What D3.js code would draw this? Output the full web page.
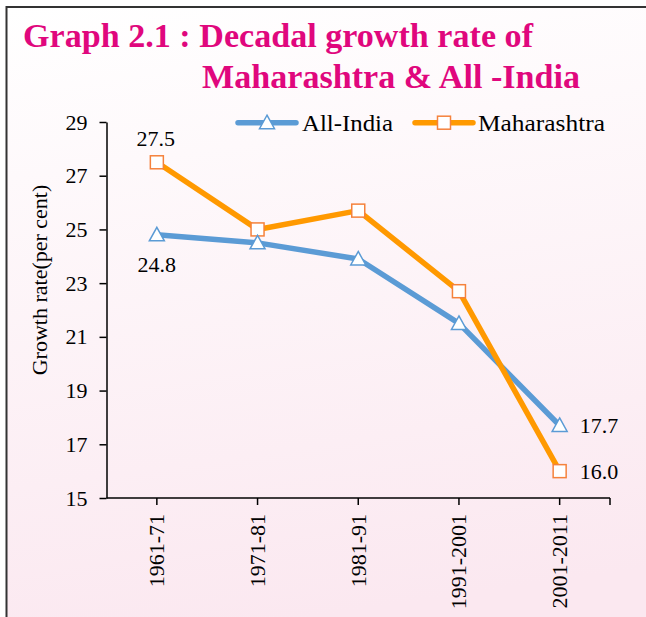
<!DOCTYPE html>
<html><head><meta charset="utf-8">
<script src="https://cdn.jsdelivr.net/npm/d3@7"></script>
<style>html,body{margin:0;padding:0;background:#fff;}svg{display:block;}</style>
</head><body>
<svg id="chart" width="646" height="617"></svg>
<script>
const categories = ["1961-71","1971-81","1981-91","1991-2001","2001-2011"];
const allIndia = [24.8, 24.5, 23.9, 21.5, 17.7];
const maharashtra = [27.5, 25.0, 25.7, 22.7, 16.0];
const yTicks = [15,17,19,21,23,25,27,29];
const seriesNames = ["All-India","Maharashtra"];
const titleLines = ["Graph 2.1 : Decadal growth rate of","Maharashtra & All -India"];
const yTitle = "Growth rate(per cent)";

const svg = d3.select("#chart");
const defs = svg.append("defs");
const grad = defs.append("linearGradient").attr("id","bg").attr("x1","0").attr("y1","0").attr("x2","0.15").attr("y2","1");
grad.append("stop").attr("offset","0").attr("stop-color","#ffffff");
grad.append("stop").attr("offset","1").attr("stop-color","#fbe8f0");

svg.append("rect").attr("x",6.5).attr("y",7).attr("width",660).attr("height",640)
  .attr("fill","url(#bg)").attr("stroke","#333").attr("stroke-width",2);

const serif = "'Liberation Serif','Times New Roman',serif";

// title
svg.append("text").attr("x",23).attr("y",47).attr("font-family",serif).attr("font-weight","bold")
  .attr("font-size",33).attr("fill","#e0077d").attr("textLength",510).attr("lengthAdjust","spacingAndGlyphs").text(titleLines[0]);
svg.append("text").attr("x",202).attr("y",87.5).attr("font-family",serif).attr("font-weight","bold")
  .attr("font-size",33).attr("fill","#e0077d").attr("textLength",378).attr("lengthAdjust","spacingAndGlyphs").text(titleLines[1]);

const x = d3.scaleBand().domain(categories).range([106.5, 610]);
const y = d3.scaleLinear().domain([15, 29]).range([498, 122]);
const cx = c => x(c) + x.bandwidth()/2;

// y axis
const yAxis = svg.append("g").attr("transform","translate(106.5,0)")
  .call(d3.axisLeft(y).tickValues(yTicks).tickSize(7).tickPadding(12).tickSizeOuter(0));
yAxis.select(".domain").attr("stroke","#000").attr("stroke-width",1.5);
yAxis.selectAll(".tick line").attr("stroke","#000").attr("stroke-width",1.5);
yAxis.selectAll(".tick text").attr("font-family",serif).attr("font-size",22).attr("fill","#000");

// x axis
const xg = svg.append("g").attr("transform","translate(0,498)");
xg.append("line").attr("x1",106.5).attr("x2",610).attr("stroke","#000").attr("stroke-width",1.5);
const xTickPos = categories.map(cx).concat([x.range()[1]]);
xg.selectAll("line.t").data(xTickPos).join("line").attr("class","t")
  .attr("x1",d=>d).attr("x2",d=>d).attr("y1",0).attr("y2",7).attr("stroke","#000").attr("stroke-width",1.5);
xg.selectAll("text").data(categories).join("text")
  .attr("transform",d=>`translate(${cx(d)+7.5},16) rotate(-90)`)
  .attr("text-anchor","end").attr("font-family",serif).attr("font-size",22).attr("fill","#000").text(d=>d);

// y title
svg.append("text").attr("transform","translate(47,280) rotate(-90)").attr("text-anchor","middle")
  .attr("font-family",serif).attr("font-size",22).attr("fill","#000").text(yTitle);

const line = d3.line().x((d,i)=>cx(categories[i])).y(d=>y(d));
const blue = "#5b9bd5", orange = "#ff9900", sqStroke = "#f5823c";
svg.append("path").datum(allIndia).attr("d",line).attr("fill","none").attr("stroke",blue).attr("stroke-width",5.5).attr("stroke-linejoin","round");
svg.append("path").datum(maharashtra).attr("d",line).attr("fill","none").attr("stroke",orange).attr("stroke-width",5.5).attr("stroke-linejoin","round");

function triangle(g, px, py){
  g.append("path").attr("d","M0,-7.5L7.5,6L-7.5,6Z").attr("transform",`translate(${px},${py})`)
   .attr("fill","#fff").attr("stroke",blue).attr("stroke-width",1.5);
}
function square(g, px, py){
  g.append("rect").attr("x",px-6.5).attr("y",py-6.5).attr("width",13).attr("height",13)
   .attr("fill","#fff").attr("stroke",sqStroke).attr("stroke-width",1.5);
}
const mg = svg.append("g");
maharashtra.forEach((v,i)=>square(mg, cx(categories[i]), y(v)));
allIndia.forEach((v,i)=>triangle(mg, cx(categories[i]), y(v)));

// data labels
const lab = (t,xx,yy,anchor)=>svg.append("text").attr("x",xx).attr("y",yy).attr("text-anchor",anchor)
  .attr("font-family",serif).attr("font-size",22).attr("fill","#000").text(t);
lab(maharashtra[0].toFixed(1), cx(categories[0])-1, y(maharashtra[0])-16, "middle");
lab(allIndia[0].toFixed(1), cx(categories[0]), y(allIndia[0])+37, "middle");
lab(allIndia[4].toFixed(1), cx(categories[4])+20, y(allIndia[4])+7.5, "start");
lab(maharashtra[4].toFixed(1), cx(categories[4])+20, y(maharashtra[4])+7.5, "start");

// legend
const lg = svg.append("g");
lg.append("line").attr("x1",238).attr("x2",296).attr("y1",122.7).attr("y2",122.7).attr("stroke",blue).attr("stroke-width",5.5).attr("stroke-linecap","round");
triangle(lg, 267, 122.7);
lg.append("text").attr("x",302).attr("y",130.5).attr("font-family",serif).attr("font-size",23).attr("fill","#000")
  .attr("textLength",91).attr("lengthAdjust","spacingAndGlyphs").text(seriesNames[0]);
lg.append("line").attr("x1",415).attr("x2",473).attr("y1",122.7).attr("y2",122.7).attr("stroke",orange).attr("stroke-width",5.5).attr("stroke-linecap","round");
square(lg, 444, 122.7);
lg.append("text").attr("x",478).attr("y",130.5).attr("font-family",serif).attr("font-size",23).attr("fill","#000")
  .attr("textLength",127).attr("lengthAdjust","spacingAndGlyphs").text(seriesNames[1]);
</script>
</body></html>
